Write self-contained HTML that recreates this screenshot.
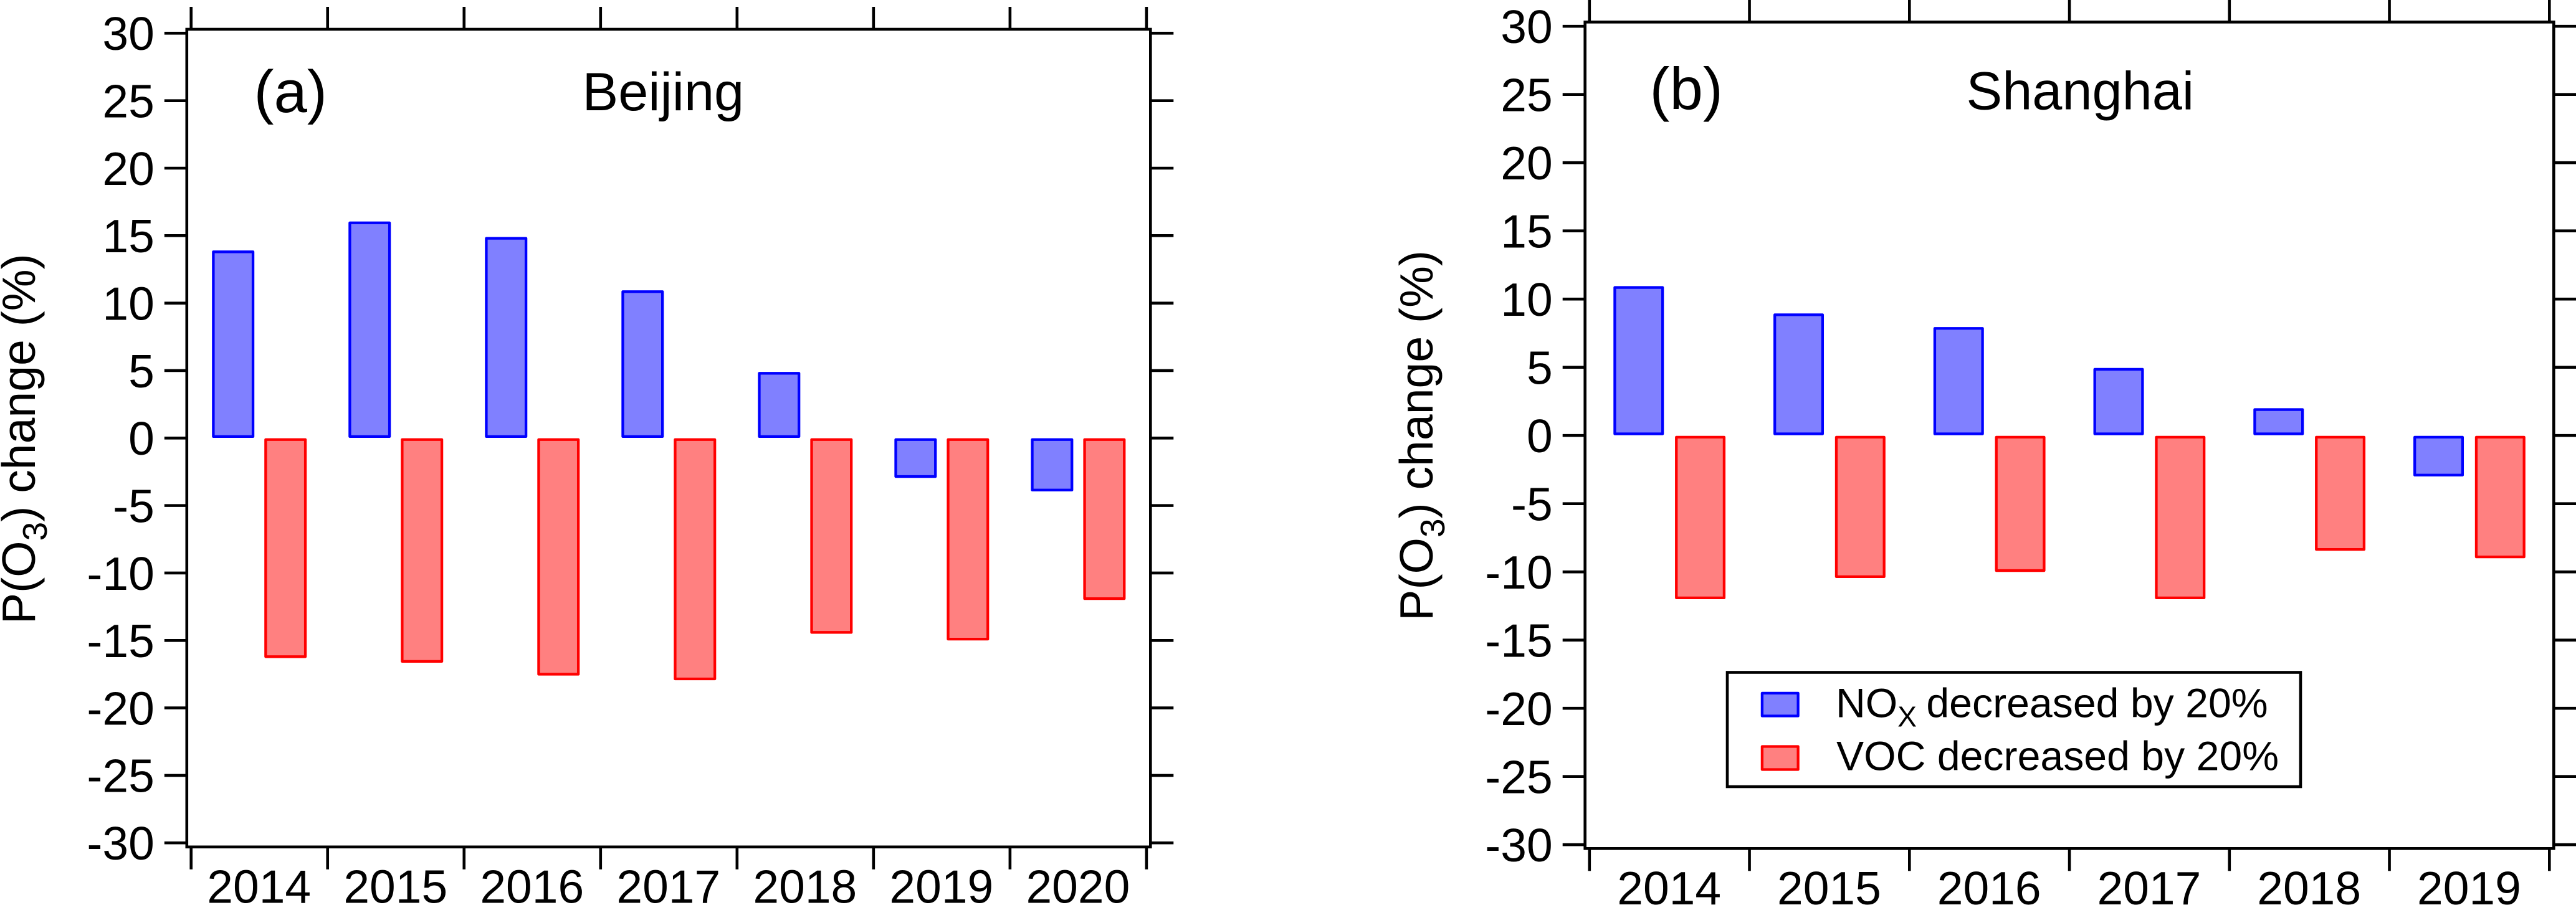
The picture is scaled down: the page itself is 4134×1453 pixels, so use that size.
<!DOCTYPE html>
<html lang="en">
<head>
<meta charset="utf-8">
<title>P(O3) change, Beijing and Shanghai</title>
<style>
html,body{margin:0;padding:0;background:#fff;width:4134px;height:1453px;overflow:hidden}
svg{display:block}
text{font-family:"Liberation Sans",Arial,sans-serif;fill:#000}
</style>
</head>
<body>
<svg id="figure" xmlns="http://www.w3.org/2000/svg" width="4134" height="1453" viewBox="0 0 4134 1453">
<rect x="0" y="0" width="4134" height="1453" fill="#ffffff"/>

<g id="panel-a"></g>
<g id="panel-b"></g>

<text x="407.5" y="180" font-size="96">(a)</text>
<text x="934.5" y="177" font-size="86.5">Beijing</text>
<text x="2647.5" y="175.5" font-size="96">(b)</text>
<text x="3155.5" y="175.5" font-size="86.5">Shanghai</text>

<text transform="translate(56,1002) rotate(-90)" font-size="75.2" xml:space="preserve">P(O<tspan dy="19" font-size="55">3</tspan><tspan dy="-19">) change (%)</tspan></text>
<text transform="translate(2299,996.7) rotate(-90)" font-size="75.2" xml:space="preserve">P(O<tspan dy="19" font-size="55">3</tspan><tspan dy="-19">) change (%)</tspan></text>

<g>
  <rect x="2772" y="1079.5" width="920" height="183.5" fill="#fff" stroke="#000" stroke-width="4.6"/>
  <rect x="2827.9" y="1112.9" width="57.7" height="36.6" fill="#8080ff" stroke="#0000ff" stroke-width="4.3" stroke-linejoin="round"/>
  <rect x="2827.9" y="1198.5" width="57.7" height="37" fill="#ff8080" stroke="#ff0000" stroke-width="4.3" stroke-linejoin="round"/>
  <text x="2946" y="1151.5" font-size="66.2" xml:space="preserve">NO<tspan dy="15" font-size="46">X</tspan><tspan dy="-15" dx="-3"> decreased by 20%</tspan></text>
  <text x="2947" y="1236.5" font-size="66.2">VOC decreased by 20%</text>
</g>
</svg>

<script>
const yTickLabels = [30, 25, 20, 15, 10, 5, 0, -5, -10, -15, -20, -25, -30];

const beijingYears = ["2014", "2015", "2016", "2017", "2018", "2019", "2020"];
const beijingNox = [13.9, 16.05, 14.9, 10.95, 4.9, -2.95, -3.95];
const beijingVoc = [-16.3, -16.65, -17.6, -17.95, -14.5, -15, -12];

const shanghaiYears = ["2014", "2015", "2016", "2017", "2018", "2019"];
const shanghaiNox = [10.95, 8.95, 7.95, 4.95, 2, -3];
const shanghaiVoc = [-12, -10.45, -10, -12, -8.45, -9];

const SVG_NS = "http://www.w3.org/2000/svg";

function make(parent, tag, attrs) {
  const el = document.createElementNS(SVG_NS, tag);
  for (const k in attrs) el.setAttribute(k, attrs[k]);
  parent.appendChild(el);
  return el;
}

function drawPanel(root, cfg, years, nox, voc) {
  const yScale = v => cfg.yZero - v * cfg.yPerUnit;
  const xBand = i => cfg.xStart + i * cfg.xStep;
  const xCenter = i => xBand(i) + cfg.xStep / 2;

  function drawBar(value, cx, fill, stroke) {
    const sw = 4.3;
    const base = cfg.yZero + (value >= 0 ? -cfg.baseGap : cfg.baseGap);
    const end = yScale(value);
    const top = Math.min(base, end);
    const bottom = Math.max(base, end);
    return make(root, "rect", {
      x: cx - cfg.barWidth / 2 + sw / 2,
      y: top + sw / 2,
      width: cfg.barWidth - sw,
      height: Math.max(0, bottom - top - sw),
      fill: fill,
      stroke: stroke,
      "stroke-width": sw,
      "stroke-linejoin": "round"
    });
  }

  years.forEach((year, i) => {
    const noxBar = drawBar(nox[i], xCenter(i) - cfg.barOffset, "#8080ff", "#0000ff");
    
    
    const vocBar = drawBar(voc[i], xCenter(i) + cfg.barOffset, "#ff8080", "#ff0000");
    
    
  });

  const frame = make(root, "rect", {
    x: cfg.left, y: cfg.top,
    width: cfg.right - cfg.left, height: cfg.bottom - cfg.top,
    fill: "none", stroke: "#000", "stroke-width": 4.6
  });
  
  

  yTickLabels.forEach(v => {
    const y = yScale(v);
    const leftTick = make(root, "line", {
      x1: cfg.left - 36, x2: cfg.left, y1: y, y2: y, stroke: "#000", "stroke-width": 4.6
    });
    
    
    const rightTick = make(root, "line", {
      x1: cfg.right, x2: cfg.right + 37, y1: y, y2: y, stroke: "#000", "stroke-width": 4.6
    });
    
    
    const label = make(root, "text", {
      x: cfg.left - 52, y: y + 26.8, "text-anchor": "end", "font-size": 75
    });
    
    
    label.textContent = String(v);
  });

  for (let i = 0; i <= years.length; i++) {
    const x = xBand(i);
    const topTick = make(root, "line", {
      x1: x, x2: x, y1: cfg.top - 36, y2: cfg.top, stroke: "#000", "stroke-width": 4.6
    });
    
    
    const bottomTick = make(root, "line", {
      x1: x, x2: x, y1: cfg.bottom, y2: cfg.bottom + 36, stroke: "#000", "stroke-width": 4.6
    });
    
    
  }

  years.forEach((year, i) => {
    const label = make(root, "text", {
      x: xCenter(i) - 0.5, y: cfg.labelBaseline, "text-anchor": "middle", "font-size": 75
    });
    
    
    label.textContent = year;
  });
}

drawPanel(document.getElementById("panel-a"), {
  left: 299.8, right: 1846.3, top: 47, bottom: 1359.8,
  yZero: 703.3, yPerUnit: 21.665,
  xStart: 306.7, xStep: 219.03,
  barWidth: 68, barOffset: 42, baseGap: 0.3,
  labelBaseline: 1449.5
}, beijingYears, beijingNox, beijingVoc);

drawPanel(document.getElementById("panel-b"), {
  left: 2543.7, right: 4098.3, top: 35.4, bottom: 1362.3,
  yZero: 699.2, yPerUnit: 21.9,
  xStart: 2550.8, xStep: 256.75,
  barWidth: 81, barOffset: 49.4, baseGap: 0.5,
  labelBaseline: 1452
}, shanghaiYears, shanghaiNox, shanghaiVoc);
</script>
</body>
</html>
